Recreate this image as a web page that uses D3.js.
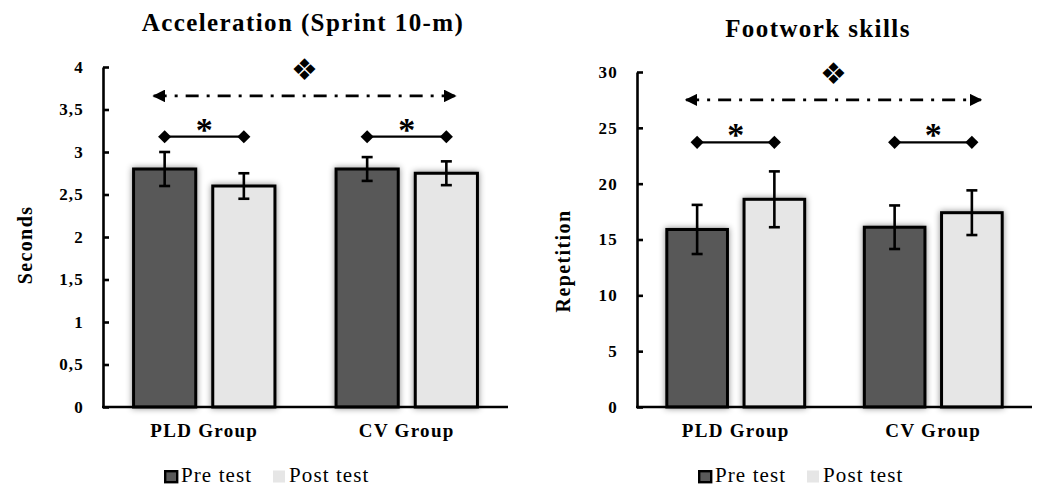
<!DOCTYPE html>
<html>
<head>
<meta charset="utf-8">
<script src="https://cdn.jsdelivr.net/npm/d3@7"></script>
<style>
  body { margin: 0; background: #fff; }
  svg text { font-family: "Liberation Serif", "Times New Roman", serif; fill: #000; }
</style>
</head>
<body>
<svg id="chart" width="1038" height="489"></svg>
<script>
// Data
const groups = ["PLD Group", "CV Group"];
const series = ["Pre test", "Post test"];

// acceleration (sprint 10-m), seconds
const accelMean = [[2.8, 2.6], [2.8, 2.75]];
const accelSd = [[0.2, 0.15], [0.14, 0.14]];
const accelTicks = ["0", "0,5", "1", "1,5", "2", "2,5", "3", "3,5", "4"];

// footwork skills, repetitions
const footMean = [[15.9, 18.6], [16.1, 17.4]];
const footSd = [[2.2, 2.5], [1.95, 2.0]];
const footTicks = ["0", "5", "10", "15", "20", "25", "30"];

const colors = ["#595959", "#e6e6e6"];

const svg = d3.select("#chart");

// soft shadow behind the bars
const defs = svg.append("defs");
const f = defs.append("filter").attr("id", "shadow")
  .attr("x", "-30%").attr("y", "-10%").attr("width", "160%").attr("height", "120%");
f.append("feDropShadow").attr("dx", 0).attr("dy", 0).attr("stdDeviation", 3)
  .attr("flood-color", "#000").attr("flood-opacity", 0.45);

defs.append("marker").attr("id", "arrow")
  .attr("viewBox", "0 0 10 10").attr("refX", 9).attr("refY", 5)
  .attr("markerWidth", 4.5).attr("markerHeight", 4.5)
  .attr("markerUnits", "strokeWidth").attr("orient", "auto-start-reverse")
  .append("path").attr("d", "M0,0 L10,5 L0,10 Z").attr("fill", "#000");

function drawChart(opt) {
  const g = svg.append("g");

  const y = d3.scaleLinear().domain([0, opt.max]).range([407, opt.top]);
  const x0 = d3.scaleBand().domain(groups).range([opt.left, opt.right]);
  const x1 = d3.scaleBand().domain(series).range([0, x0.bandwidth()])
    .paddingInner(0.215).paddingOuter(0.386);

  // title
  g.append("text")
    .attr("x", opt.titleX).attr("y", opt.titleY)
    .attr("text-anchor", "middle")
    .style("font-size", "25px").style("font-weight", "bold")
    .style("letter-spacing", "1.4px")
    .text(opt.title);

  // y axis label
  g.append("text")
    .attr("transform", "translate(" + opt.labelX + "," + opt.labelY + ") rotate(-90)")
    .attr("text-anchor", "middle")
    .style("font-size", "20px").style("font-weight", "bold")
    .style("letter-spacing", "1.4px")
    .text(opt.yLabel);

  // bars
  const rows = [];
  groups.forEach((grp, i) => {
    series.forEach((s, j) => {
      rows.push({ grp: grp, s: s, j: j, v: opt.mean[i][j], sd: opt.sd[i][j] });
    });
  });
  const cx = d => x0(d.grp) + x1(d.s) + x1.bandwidth() / 2;

  g.append("g").selectAll("rect").data(rows).enter().append("rect")
    .attr("x", d => x0(d.grp) + x1(d.s))
    .attr("y", d => y(d.v))
    .attr("width", x1.bandwidth())
    .attr("height", d => y(0) - y(d.v))
    .attr("fill", d => colors[d.j])
    .attr("stroke", "#000").attr("stroke-width", 3)
    .attr("filter", "url(#shadow)");

  // error bars
  const eb = g.append("g").attr("stroke", "#000").attr("stroke-width", 2.6);
  rows.forEach(d => {
    const c = cx(d);
    eb.append("line").attr("x1", c).attr("x2", c).attr("y1", y(d.v + d.sd)).attr("y2", y(d.v - d.sd));
    eb.append("line").attr("x1", c - 5.5).attr("x2", c + 5.5).attr("y1", y(d.v + d.sd)).attr("y2", y(d.v + d.sd));
    eb.append("line").attr("x1", c - 5.5).attr("x2", c + 5.5).attr("y1", y(d.v - d.sd)).attr("y2", y(d.v - d.sd));
  });

  // axes
  const yAxis = d3.axisLeft(y)
    .tickValues(d3.range(opt.ticks.length).map(i => i * opt.step))
    .tickFormat((d, i) => opt.ticks[i])
    .tickSizeInner(-6).tickSizeOuter(0).tickPadding(19);
  const ya = g.append("g").attr("transform", "translate(" + opt.left + ",0)").call(yAxis);
  ya.select(".domain").attr("stroke-width", 2.6);
  ya.selectAll(".tick line").attr("stroke-width", 2.6);
  ya.selectAll(".tick text")
    .style("font-size", "17px").style("font-weight", "bold")
    .style("letter-spacing", "1.2px")
    .style("font-family", "'Liberation Serif', serif");

  g.append("line")
    .attr("x1", opt.left - 1).attr("x2", opt.right)
    .attr("y1", y(0)).attr("y2", y(0))
    .attr("stroke", "#000").attr("stroke-width", 2.6);

  // group labels
  g.selectAll(".grp").data(groups).enter().append("text")
    .attr("x", d => x0(d) + x0.bandwidth() / 2)
    .attr("y", 437)
    .attr("text-anchor", "middle")
    .style("font-size", "19px").style("font-weight", "bold")
    .style("letter-spacing", "1.3px")
    .text(d => d);

  // significance markers
  const pre0 = cx(rows[0]), post0 = cx(rows[1]);
  const pre1 = cx(rows[2]), post1 = cx(rows[3]);
  const ay = y(opt.arrowAt), by = y(opt.bracketAt);

  g.append("line")
    .attr("x1", pre0 - 11).attr("x2", post1 + 9)
    .attr("y1", ay).attr("y2", ay)
    .attr("stroke", "#000").attr("stroke-width", 2.8)
    .attr("stroke-dasharray", "13,8,3,8")
    .attr("marker-start", "url(#arrow)").attr("marker-end", "url(#arrow)");

  g.append("text")
    .attr("x", (pre0 + post1) / 2 - 1).attr("y", ay - 16)
    .attr("text-anchor", "middle")
    .style("font-family", "'DejaVu Sans', sans-serif")
    .style("font-size", "30px")
    .text("\u2756");

  [[pre0, post0], [pre1, post1]].forEach(p => {
    g.append("line")
      .attr("x1", p[0]).attr("x2", p[1]).attr("y1", by).attr("y2", by)
      .attr("stroke", "#000").attr("stroke-width", 2.2);
    p.forEach(px => {
      g.append("path")
        .attr("d", d3.symbol(d3.symbolDiamond2, 110)())
        .attr("transform", "translate(" + px + "," + by + ")")
        .attr("fill", "#000");
    });
    g.append("text")
      .attr("x", (p[0] + p[1]) / 2).attr("y", by + 4)
      .attr("text-anchor", "middle")
      .style("font-size", "34px").style("font-weight", "bold")
      .text("*");
  });

  // legend
  const lg = g.append("g").attr("transform", "translate(" + (opt.left + 61) + ",470)");
  lg.append("rect").attr("x", 1.2).attr("y", 1.2).attr("width", 12).attr("height", 11)
    .attr("fill", colors[0]).attr("stroke", "#000").attr("stroke-width", 2.4);
  lg.append("text").attr("x", 17).attr("y", 12)
    .style("font-size", "21px").style("letter-spacing", "1.1px").text(series[0]);
  lg.append("rect").attr("x", 109).attr("y", 0.5).attr("width", 12).attr("height", 12)
    .attr("fill", colors[1]);
  lg.append("text").attr("x", 125).attr("y", 12)
    .style("font-size", "21px").style("letter-spacing", "1.1px").text(series[1]);
}

drawChart({
  title: "Acceleration (Sprint 10-m)", titleX: 303, titleY: 31,
  yLabel: "Seconds", labelX: 32, labelY: 245,
  mean: accelMean, sd: accelSd, ticks: accelTicks, step: 0.5, max: 4,
  left: 103, right: 508, top: 67,
  arrowAt: 3.66, bracketAt: 3.18
});

drawChart({
  title: "Footwork skills", titleX: 818, titleY: 37,
  yLabel: "Repetition", labelX: 570, labelY: 261,
  mean: footMean, sd: footSd, ticks: footTicks, step: 5, max: 30,
  left: 637, right: 1032, top: 72,
  arrowAt: 27.5, bracketAt: 23.7
});
</script>
</body>
</html>
